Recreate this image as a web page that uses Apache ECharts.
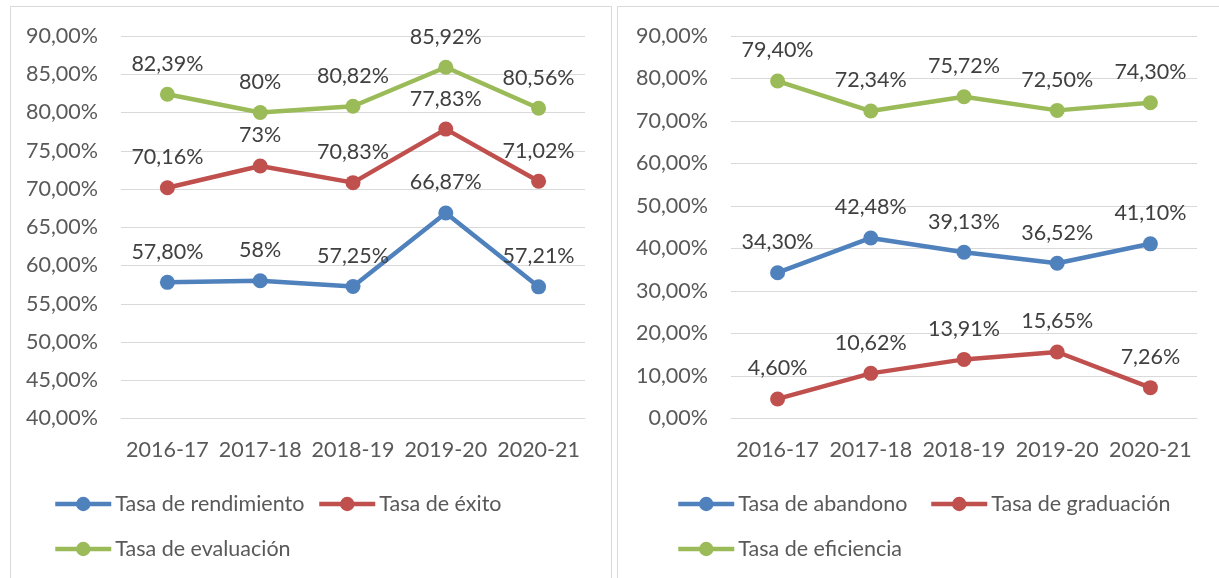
<!DOCTYPE html>
<html>
<head>
<meta charset="utf-8">
<script src="https://cdn.jsdelivr.net/npm/echarts@6/dist/echarts.min.js"></script>
<style>html,body{margin:0;padding:0;background:#fff;}#c{width:1219px;height:578px;}</style>
</head>
<body>
<div id="c"></div>
<script>
const categories = ['2016-17', '2017-18', '2018-19', '2019-20', '2020-21'];
const rendimiento = [57.80, 58, 57.25, 66.87, 57.21];
const exito = [70.16, 73, 70.83, 77.83, 71.02];
const evaluacion = [82.39, 80, 80.82, 85.92, 80.56];
const abandono = [34.30, 42.48, 39.13, 36.52, 41.10];
const graduacion = [4.60, 10.62, 13.91, 15.65, 7.26];
const eficiencia = [79.40, 72.34, 75.72, 72.50, 74.30];
const leftTicks = {min: 40, max: 90, interval: 5};
const rightTicks = {min: 0, max: 90, interval: 10};

const FONT = 'Lato';
const FS = 21.5;
const BLUE = '#4F81BD', RED = '#C0504D', GREEN = '#9BBB59';
const axisFmt = v => v.toFixed(2).replace('.', ',') + '%';
const labFmt = v => (Number.isInteger(v) ? String(v) : v.toFixed(2).replace('.', ',')) + '%';

function mkSeries(name, data, color, idx) {
  return {
    name: name, type: 'line', data: data,
    xAxisIndex: idx, yAxisIndex: idx,
    symbol: 'circle', symbolSize: 15,
    lineStyle: {width: 4.5, color: color},
    itemStyle: {color: color},
    label: {show: true, position: 'top', distance: 12,
      formatter: p => labFmt(p.value),
      fontFamily: FONT, fontSize: FS, color: '#404040'},
    emphasis: {disabled: true},
    animation: false
  };
}
function mkLegend(name, left, top) {
  return {data: [name], left: left, top: top, padding: 0, itemWidth: 56, itemHeight: 18, itemGap: 0,
    lineStyle: {width: 4.5},
    textStyle: {fontFamily: FONT, fontSize: FS, color: '#595959', padding: [0, 0, 0, -1]},
    selectedMode: false};
}
function mkX(idx) {
  return {type: 'category', gridIndex: idx, data: categories, boundaryGap: true,
    axisLine: {show: true, lineStyle: {color: '#D9D9D9', width: 1}},
    axisTick: {show: false},
    axisLabel: {interval: 0, fontFamily: FONT, fontSize: FS, color: '#595959', margin: 21}};
}
function mkY(idx, t) {
  return {type: 'value', gridIndex: idx, min: t.min, max: t.max, interval: t.interval,
    axisLine: {show: false}, axisTick: {show: false},
    splitLine: {lineStyle: {color: '#D9D9D9', width: 1}},
    axisLabel: {fontFamily: FONT, fontSize: FS, color: '#595959', margin: 23, formatter: axisFmt}};
}

const chart = echarts.init(document.getElementById('c'), null, {renderer: 'canvas'});
chart.setOption({
  animation: false,
  backgroundColor: '#fff',
  graphic: [
    {type: 'rect', shape: {x: 10.5, y: 6.5, width: 601, height: 700}, style: {fill: 'none', stroke: '#D9D9D9', lineWidth: 1}, silent: true},
    {type: 'rect', shape: {x: 617.5, y: 6.5, width: 700, height: 700}, style: {fill: 'none', stroke: '#D9D9D9', lineWidth: 1}, silent: true}
  ],
  grid: [
    {left: 121, right: 634, top: 36, bottom: 159.5},
    {left: 731, right: 22, top: 36, bottom: 159.5}
  ],
  xAxis: [mkX(0), mkX(1)],
  yAxis: [mkY(0, leftTicks), mkY(1, rightTicks)],
  legend: [
    mkLegend('Tasa de rendimiento', 53, 493),
    mkLegend('Tasa de éxito', 317, 493),
    mkLegend('Tasa de evaluación', 53, 538),
    mkLegend('Tasa de abandono', 676, 493),
    mkLegend('Tasa de graduación', 929, 493),
    mkLegend('Tasa de eficiencia', 676, 538)
  ],
  series: [
    mkSeries('Tasa de rendimiento', rendimiento, BLUE, 0),
    mkSeries('Tasa de éxito', exito, RED, 0),
    mkSeries('Tasa de evaluación', evaluacion, GREEN, 0),
    mkSeries('Tasa de abandono', abandono, BLUE, 1),
    mkSeries('Tasa de graduación', graduacion, RED, 1),
    mkSeries('Tasa de eficiencia', eficiencia, GREEN, 1)
  ]
});
</script>
</body>
</html>
